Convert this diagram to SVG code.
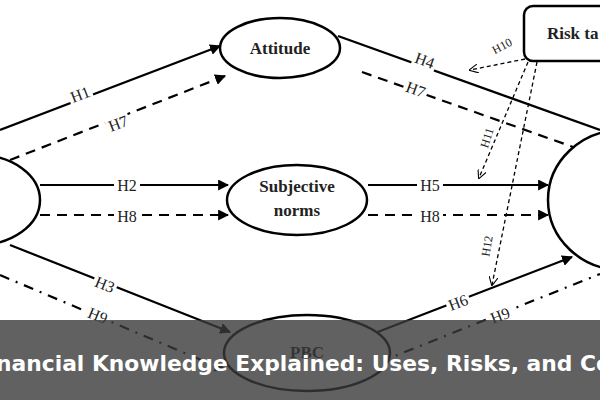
<svg xmlns="http://www.w3.org/2000/svg" width="600" height="400" viewBox="0 0 600 400">
<style>
.n{fill:#fff;stroke:#000;stroke-width:2.5}
.t{font-family:"Liberation Serif",serif;font-weight:bold;font-size:17px;fill:#222;text-anchor:middle}
.l{font-family:"Liberation Serif",serif;font-size:16px;fill:#222;text-anchor:middle}
.s{stroke:#000;stroke-width:2.2;fill:none}
.d{stroke-dasharray:10 7}
.dd{stroke-dasharray:10 7 2 7}
.o{stroke:#000;stroke-width:1.3;fill:none;stroke-dasharray:4 3}
</style>
<defs>
<marker id="a" viewBox="0 0 10 10" refX="9" refY="5" markerWidth="5" markerHeight="5" orient="auto"><path d="M0,0L10,5L0,10z" fill="#000"/></marker>
<marker id="v" viewBox="0 0 10 10" refX="9" refY="5" markerWidth="7" markerHeight="7" orient="auto"><path d="M0,0L10,5L0,10" fill="none" stroke="#000" stroke-width="1.2"/></marker>
</defs>
<rect width="600" height="400" fill="#fff"/>
<g id="connectors">
<line class="s" x1="0" y1="130" x2="220" y2="46" marker-end="url(#a)"/>
<line class="s d" x1="10" y1="160" x2="225" y2="76" marker-end="url(#a)"/>
<line class="s" x1="40" y1="185" x2="228" y2="185" marker-end="url(#a)"/>
<line class="s d" x1="40" y1="215" x2="228" y2="215" marker-end="url(#a)"/>
<line class="s" x1="10" y1="245" x2="230" y2="332" marker-end="url(#a)"/>
<line class="s dd" x1="0" y1="275" x2="225" y2="370" marker-end="url(#a)"/>
<line class="s" x1="338" y1="36" x2="600" y2="130"/>
<line class="s d" x1="362" y1="72" x2="590" y2="153" marker-end="url(#a)"/>
<line class="s" x1="368" y1="185" x2="548" y2="185" marker-end="url(#a)"/>
<line class="s d" x1="368" y1="215" x2="548" y2="215" marker-end="url(#a)"/>
<line class="s" x1="375" y1="333" x2="572" y2="257" marker-end="url(#a)"/>
<line class="s dd" x1="380" y1="362" x2="600" y2="274"/>
<line class="o" x1="525" y1="59" x2="470" y2="70" marker-end="url(#v)"/>
<line class="o" x1="528" y1="62" x2="479" y2="178" marker-end="url(#v)"/>
<line class="o" x1="537" y1="62" x2="492" y2="285" marker-end="url(#v)"/>
<g class="l">
<rect x="68" y="85" width="24" height="18" fill="#fff" transform="rotate(-21 80 94)"/><text x="80" y="100" transform="rotate(-21 80 94)">H1</text>
<rect x="106" y="114" width="24" height="18" fill="#fff" transform="rotate(-21 118 123)"/><text x="118" y="129" transform="rotate(-21 118 123)">H7</text>
<rect x="114" y="176" width="26" height="18" fill="#fff"/><text x="127" y="191">H2</text>
<rect x="114" y="207" width="26" height="18" fill="#fff"/><text x="127" y="222">H8</text>
<rect x="93" y="275" width="24" height="18" fill="#fff" transform="rotate(22 105 284)"/><text x="105" y="290" transform="rotate(22 105 284)">H3</text>
<rect x="86" y="306" width="24" height="18" fill="#fff" transform="rotate(22 98 315)"/><text x="98" y="321" transform="rotate(22 98 315)">H9</text>
<rect x="413" y="51" width="24" height="18" fill="#fff" transform="rotate(20 425 60)"/><text x="425" y="66" transform="rotate(20 425 60)">H4</text>
<rect x="404" y="80" width="24" height="18" fill="#fff" transform="rotate(20 416 89)"/><text x="416" y="95" transform="rotate(20 416 89)">H7</text>
<rect x="417" y="176" width="26" height="18" fill="#fff"/><text x="430" y="191">H5</text>
<rect x="417" y="207" width="26" height="18" fill="#fff"/><text x="430" y="222">H8</text>
<rect x="446" y="293" width="24" height="18" fill="#fff" transform="rotate(-21 458 302)"/><text x="458" y="308" transform="rotate(-21 458 302)">H6</text>
<rect x="488" y="306" width="24" height="18" fill="#fff" transform="rotate(-21 500 315)"/><text x="500" y="321" transform="rotate(-21 500 315)">H9</text>
<g style="font-size:12px"><text x="502" y="50" transform="rotate(-28 502 46)">H10</text>
<text x="487" y="142" transform="rotate(-72 487 138)">H11</text>
<text x="487" y="250" transform="rotate(-80 487 246)">H12</text></g>
</g>
</g>
<g id="left"><ellipse class="n" cx="-22" cy="200" rx="62" ry="45"/></g>
<g id="attitude"><ellipse class="n" cx="280" cy="48" rx="60" ry="30"/><text class="t" x="280" y="54">Attitude</text></g>
<g id="subjective"><ellipse class="n" cx="297" cy="200" rx="70" ry="35"/><text class="t" x="297" y="192">Subjective</text><text class="t" x="297" y="216">norms</text></g>
<g id="pbc"><ellipse class="n" cx="307" cy="353" rx="83" ry="38"/><text class="t" x="307" y="358">PBC</text></g>
<g id="right"><ellipse class="n" cx="622" cy="200" rx="74" ry="70"/></g>
<g id="risk"><rect class="n" x="524" y="6" width="100" height="55" rx="9"/><text class="t" x="547" y="39" style="text-anchor:start">Risk ta</text></g>
<g id="banner"><rect x="0" y="320" width="600" height="80" fill="#3a3a3a" fill-opacity="0.8"/>
<text x="-4" y="371" font-family="DejaVu Sans,sans-serif" font-weight="bold" font-size="21.8" fill="#fff">nancial Knowledge Explained: Uses, Risks, and Co</text></g>
</svg>
